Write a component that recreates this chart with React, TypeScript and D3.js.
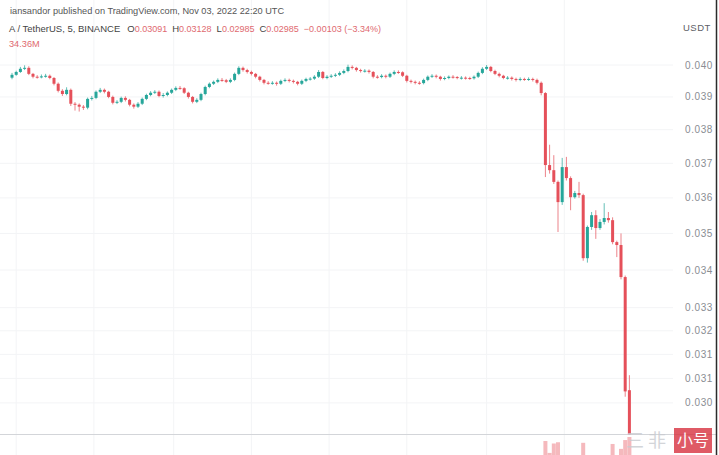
import React from 'react';
import * as d3 from 'd3';

// ---- data (5-minute candles, A/USDT, Binance) ----
const firstOpen = 0.0396;
const lastOpen = 0.03091;
const closes = [
  0.03969,0.03978,0.03988,0.03991,0.03972,0.03963,0.03962,0.03964,0.03966,0.03959,
  0.03941,0.03919,0.03909,0.03922,0.03879,0.03876,0.03870,0.03867,0.03894,0.03897,
  0.03916,0.03922,0.03916,0.03900,0.03882,0.03885,0.03897,0.03891,0.03876,0.03870,
  0.03879,0.03894,0.03906,0.03913,0.03916,0.03903,0.03906,0.03913,0.03922,0.03928,
  0.03927,0.03913,0.03900,0.03885,0.03891,0.03909,0.03931,0.03941,0.03947,0.03953,
  0.03952,0.03947,0.03953,0.03972,0.03991,0.03984,0.03978,0.03972,0.03963,0.03953,
  0.03944,0.03943,0.03944,0.03941,0.03950,0.03953,0.03950,0.03947,0.03941,0.03950,
  0.03956,0.03957,0.03963,0.03978,0.03959,0.03963,0.03966,0.03969,0.03975,0.03981,
  0.03994,0.03991,0.03984,0.03981,0.03982,0.03978,0.03963,0.03962,0.03966,0.03963,
  0.03972,0.03978,0.03977,0.03966,0.03950,0.03947,0.03944,0.03943,0.03953,0.03963,
  0.03966,0.03963,0.03956,0.03959,0.03963,0.03962,0.03959,0.03960,0.03959,0.03958,
  0.03963,0.03975,0.03988,0.03994,0.03981,0.03972,0.03966,0.03959,0.03960,0.03956,
  0.03953,0.03956,0.03955,0.03956,0.03953,0.03944,0.03912,0.03695,0.03680,0.03646,
  0.03588,0.03689,0.03657,0.03602,0.03614,0.03608,0.03432,0.03518,0.03551,0.03515,
  0.03532,0.03543,0.03537,0.03476,0.03468,0.03381,0.03088,0.02985,
];
const highs = [
  0.03975,0.03982,0.03994,0.03999,0.03996,0.03975,0.03968,0.03970,0.03972,0.03970,
  0.03962,0.03945,0.03924,0.03930,0.03926,0.03884,0.03880,0.03875,0.03898,0.03903,
  0.03920,0.03928,0.03926,0.03919,0.03904,0.03890,0.03901,0.03902,0.03894,0.03880,
  0.03884,0.03898,0.03910,0.03918,0.03921,0.03920,0.03912,0.03917,0.03926,0.03933,
  0.03934,0.03930,0.03916,0.03903,0.03896,0.03913,0.03935,0.03945,0.03951,0.03958,
  0.03959,0.03956,0.03958,0.03976,0.03996,0.03995,0.03988,0.03982,0.03975,0.03966,
  0.03956,0.03949,0.03949,0.03948,0.03954,0.03958,0.03957,0.03954,0.03950,0.03954,
  0.03960,0.03962,0.03968,0.03984,0.03981,0.03968,0.03971,0.03974,0.03980,0.03986,
  0.04001,0.03999,0.03994,0.03988,0.03987,0.03986,0.03981,0.03968,0.03971,0.03970,
  0.03976,0.03983,0.03983,0.03980,0.03969,0.03954,0.03951,0.03949,0.03957,0.03967,
  0.03971,0.03970,0.03966,0.03964,0.03967,0.03968,0.03965,0.03965,0.03964,0.03963,
  0.03967,0.03979,0.03993,0.04000,0.03997,0.03985,0.03976,0.03969,0.03965,0.03964,
  0.03960,0.03961,0.03960,0.03961,0.03960,0.03957,0.03948,0.03915,0.03755,0.03724,
  0.03650,0.03716,0.03719,0.03662,0.03620,0.03646,0.03612,0.03522,0.03560,0.03565,
  0.03540,0.03585,0.03560,0.03545,0.03480,0.03500,0.03385,0.03128,
];
const lows = [
  0.03955,0.03966,0.03975,0.03984,0.03968,0.03958,0.03957,0.03958,0.03960,0.03955,
  0.03936,0.03914,0.03903,0.03905,0.03872,0.03858,0.03855,0.03860,0.03862,0.03889,
  0.03893,0.03912,0.03911,0.03896,0.03877,0.03878,0.03881,0.03886,0.03871,0.03864,
  0.03866,0.03875,0.03890,0.03902,0.03909,0.03899,0.03898,0.03902,0.03909,0.03918,
  0.03922,0.03909,0.03895,0.03880,0.03881,0.03887,0.03905,0.03927,0.03937,0.03943,
  0.03947,0.03943,0.03943,0.03949,0.03968,0.03979,0.03973,0.03967,0.03958,0.03948,
  0.03939,0.03938,0.03938,0.03935,0.03937,0.03946,0.03945,0.03942,0.03936,0.03937,
  0.03946,0.03951,0.03953,0.03959,0.03955,0.03955,0.03959,0.03962,0.03965,0.03971,
  0.03977,0.03986,0.03979,0.03976,0.03976,0.03973,0.03958,0.03957,0.03958,0.03958,
  0.03959,0.03968,0.03972,0.03962,0.03945,0.03942,0.03939,0.03938,0.03939,0.03949,
  0.03959,0.03958,0.03951,0.03952,0.03955,0.03957,0.03955,0.03954,0.03954,0.03953,
  0.03954,0.03959,0.03971,0.03984,0.03977,0.03968,0.03961,0.03955,0.03954,0.03951,
  0.03948,0.03949,0.03950,0.03950,0.03948,0.03939,0.03905,0.03660,0.03670,0.03640,
  0.03504,0.03580,0.03650,0.03565,0.03598,0.03600,0.03425,0.03420,0.03510,0.03485,
  0.03510,0.03525,0.03530,0.03470,0.03435,0.03375,0.03075,0.02985,
];
const volumes = [
  4.2,3.1,5.0,3.6,4.8,2.9,2.2,2.5,2.1,3.3,
  5.6,6.8,4.9,5.3,9.1,4.4,5.2,3.8,6.0,3.4,
  4.7,3.9,3.2,4.1,5.5,3.0,3.7,2.8,4.6,3.9,
  3.5,4.4,3.8,3.0,2.6,3.4,2.9,3.1,3.6,3.2,
  2.4,3.8,4.5,5.1,3.3,4.9,6.2,4.0,3.1,3.5,
  2.7,2.9,3.0,5.8,7.4,4.3,3.6,3.2,3.9,4.1,
  3.3,2.5,2.3,3.1,2.9,2.6,2.4,2.8,3.4,3.0,
  2.9,2.2,3.1,4.6,4.9,2.7,2.5,2.8,3.3,3.7,
  5.2,3.6,3.4,2.6,2.3,2.9,4.2,2.4,2.2,2.5,
  3.1,3.4,2.6,3.5,4.7,3.0,2.8,2.3,3.2,3.5,
  2.6,2.4,3.0,2.3,2.5,2.1,2.2,1.9,2.0,2.1,
  2.6,3.9,5.1,5.6,4.4,3.6,3.2,3.4,2.5,2.8,
  3.0,2.6,2.4,2.7,3.3,5.9,12.5,30.2,17.8,27.6,
  28.9,14.5,13.2,13.8,8.1,9.4,28.3,14.7,10.2,12.6,
  7.3,9.2,6.1,27.1,10.4,22.0,31.2,34.36,
];
const priceTicks = [0.040, 0.039, 0.038, 0.037, 0.036, 0.035, 0.034, 0.033, 0.0324, 0.0318, 0.0312, 0.0306];
const timeGridIdx = [1, 19.5, 38.5, 57, 75.5, 94, 113, 131.5];

const headerTitle = 'iansandor published on TradingView.com, Nov 03, 2022 22:20 UTC';
const symbolLabel = 'A / TetherUS, 5, BINANCE';
const ohlcLabels = [
  { k: 'O', v: '0.03091' },
  { k: 'H', v: '0.03128' },
  { k: 'L', v: '0.02985' },
  { k: 'C', v: '0.02985' },
];
const changeLabel = '\u22120.00103 (\u22123.34%)';
const volumeLabel = '34.36M';
const currencyLabel = 'USDT';

const RED = '#e5505a';
const TXT_RED = '#e06a70';
const GREEN = '#26a69a';
const FONT = '"Liberation Sans", Arial, sans-serif';

export default function App() {
  const n = closes.length;
  const opens = closes.map((c, i) => (i === 0 ? firstOpen : i === n - 1 ? lastOpen : closes[i - 1]));
  const x = d3.scaleLinear().domain([0, n - 1]).range([12, 629.4]);
  const y = d3.scaleLog().domain([0.04, 0.034]).range([65, 270]);
  const v = d3.scaleLinear().domain([0, d3.max(volumes) as number]).range([470, 437]);
  const f3 = d3.format('.3f');
  const fmt = (t: number) => f3(Math.floor(t * 1000 + 1e-6) / 1000);
  const bodyW = 3;

  return (
    <svg width={719} height={455} style={{ position: 'absolute', left: 0, top: 0, background: '#fff' }}
      fontFamily={FONT}>
      <defs>
        <clipPath id="volClip"><rect x={0} y={435} width={673} height={30} /></clipPath>
      </defs>
      <rect x={0} y={0} width={719} height={455} fill="#fff" />
      {/* grid */}
      {priceTicks.map((t, i) => (
        <line key={'hg' + i} x1={0} x2={673} y1={y(t)} y2={y(t)} stroke="#f3f4f6" strokeWidth={1} />
      ))}
      {timeGridIdx.map((t, i) => (
        <line key={'vg' + i} x1={x(t)} x2={x(t)} y1={0} y2={455} stroke="#f3f4f6" strokeWidth={1} />
      ))}
      {/* volume */}
      <g clipPath="url(#volClip)">
        {volumes.map((vol, i) => (
          <rect key={'v' + i} x={x(i) - 2} width={4} y={v(vol)} height={470 - v(vol)}
            fill={closes[i] >= opens[i] ? GREEN : RED} opacity={0.4} />
        ))}
      </g>
      <line x1={0} x2={716} y1={434.5} y2={434.5} stroke="#d3d5d9" strokeWidth={1} />
      {/* candles */}
      <g>
        {closes.map((c, i) => {
          const o = opens[i];
          const col = c >= o ? GREEN : RED;
          const top = y(Math.max(o, c));
          const bot = y(Math.min(o, c));
          return (
            <g key={'c' + i}>
              <line x1={x(i)} x2={x(i)} y1={y(highs[i])} y2={y(lows[i])} stroke={col} strokeWidth={1} opacity={0.7} />
              <rect x={x(i) - bodyW / 2} width={bodyW} y={top} height={Math.max(1, bot - top)} fill={col} />
            </g>
          );
        })}
      </g>
      {/* price axis */}
      <g fontSize={10} fill="#8a8d93" letterSpacing={0.6}>
        {priceTicks.map((t, i) => (
          <text key={'t' + i} x={685} y={y(t)} dy="0.35em">{fmt(t)}</text>
        ))}
        <text x={683} y={31} fill="#5d6066" fontSize={9.5} letterSpacing={0.5}>{currencyLabel}</text>
      </g>
      {/* header */}
      <text x={10} y={14} fontSize={9.2} fill="#555">{headerTitle}</text>
      <text x={9} y={32} fontSize={9.5} fill="#444">
        <tspan>{symbolLabel}</tspan>
        {ohlcLabels.map((d, i) => (
          <React.Fragment key={'o' + i}>
            <tspan dx={i === 0 ? 7 : 5}>{d.k}</tspan>
            <tspan fill={TXT_RED} fontSize={9}>{d.v}</tspan>
          </React.Fragment>
        ))}
        <tspan dx={5} fill={TXT_RED} fontSize={9}>{changeLabel}</tspan>
      </text>
      <text x={9} y={47} fontSize={9.2} fill={TXT_RED}>{volumeLabel}</text>
      {/* watermark */}
      <g opacity={0.8}>
        <text x={626} y={447} fontSize={18} fill="#c9cbd0" fontFamily='"Noto Sans CJK SC", sans-serif'>三</text>
        <text x={648} y={447} fontSize={18} fill="#c9cbd0" fontFamily='"Noto Sans CJK SC", sans-serif'>非</text>
        <rect x={674} y={428} width={38} height={25} fill="#d8313f" />
        <text x={693} y={446} fontSize={16} fill="#fff" textAnchor="middle" fontFamily='"Noto Sans CJK SC", sans-serif'>小号</text>
      </g>
      <line x1={716.5} x2={716.5} y1={0} y2={455} stroke="#2b2b2b" strokeWidth={1.5} />
    </svg>
  );
}
